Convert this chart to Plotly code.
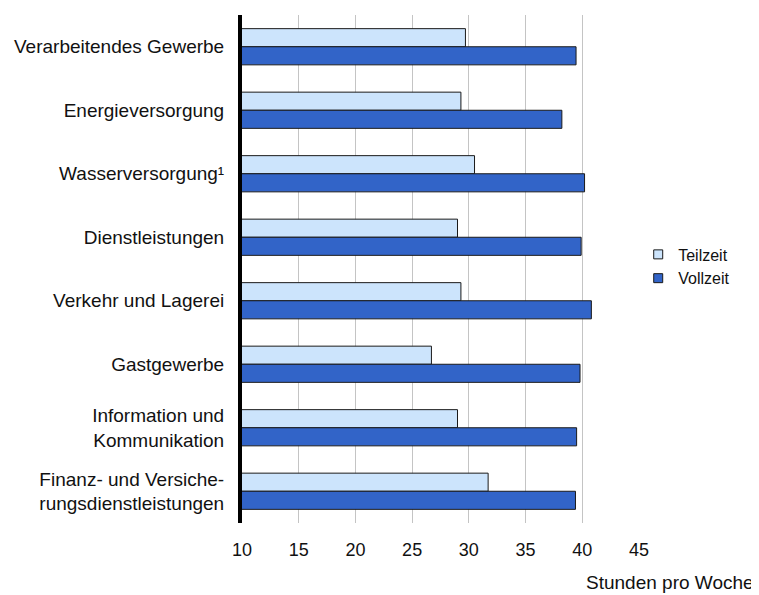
import plotly.graph_objects as go

categories = [
    "Verarbeitendes Gewerbe",
    "Energieversorgung",
    "Wasserversorgung¹",
    "Dienstleistungen",
    "Verkehr und Lagerei",
    "Gastgewerbe",
    "Information und<br>Kommunikation",
    "Finanz- und Versiche-<br>rungsdienstleistungen",
]
teilzeit = [29.7, 29.3, 30.5, 29.0, 29.3, 26.7, 29.0, 31.7]
vollzeit = [39.45, 38.2, 40.2, 39.9, 40.8, 39.8, 39.5, 39.4]
x_ticks = [10, 15, 20, 25, 30, 35, 40, 45]
series_names = ["Teilzeit", "Vollzeit"]
series_colors = ["#cce4fc", "#3264c8"]

FONT = "Liberation Sans, Arial, sans-serif"
EDGE = "#1a1a1a"

fig = go.Figure()
for name, vals, col in zip(series_names, [teilzeit, vollzeit], series_colors):
    fig.add_trace(go.Bar(
        y=categories, x=vals, orientation="h", name=name, showlegend=False,
        marker=dict(color=col, line=dict(color=EDGE, width=1)),
    ))
# legend entries with small square swatches
for name, col in zip(series_names, series_colors):
    fig.add_trace(go.Scatter(
        x=[None], y=[None], mode="markers", name=name,
        marker=dict(symbol="square", size=9, color=col, line=dict(color=EDGE, width=1)),
    ))

fig.update_layout(
    width=751, height=587,
    margin=dict(l=234, r=120, t=7, b=72),
    paper_bgcolor="white", plot_bgcolor="white",
    barmode="group", bargap=0.43, bargroupgap=0,
    font=dict(family=FONT, size=19, color="#111111"),
    showlegend=True,
    legend=dict(
        x=0.998, y=0.505, xanchor="left", yanchor="middle",
        font=dict(family=FONT, size=16, color="#111111"),
        itemwidth=30, tracegroupgap=0,
        bgcolor="rgba(0,0,0,0)",
    ),
    xaxis=dict(
        range=[10, 45], tickvals=x_ticks, ticktext=[str(v) for v in x_ticks],
        showgrid=True, gridcolor="#c4c4c4", gridwidth=1,
        zeroline=False, showline=False,
        ticks="outside", ticklen=10, tickcolor="rgba(0,0,0,0)",
        tickfont=dict(size=18),
        fixedrange=True,
    ),
    yaxis=dict(
        autorange="reversed",
        showline=True, linecolor="black", linewidth=4,
        showgrid=False, zeroline=False,
        ticks="outside", ticklen=10, tickcolor="rgba(0,0,0,0)",
        tickfont=dict(size=19),
    ),
    annotations=[dict(
        text="Stunden pro Woche", xref="paper", yref="paper",
        x=1.295, y=-0.118, xanchor="right", yanchor="middle",
        showarrow=False, font=dict(family=FONT, size=19, color="#111111"),
    )],
)

fig.write_html("out.html")
